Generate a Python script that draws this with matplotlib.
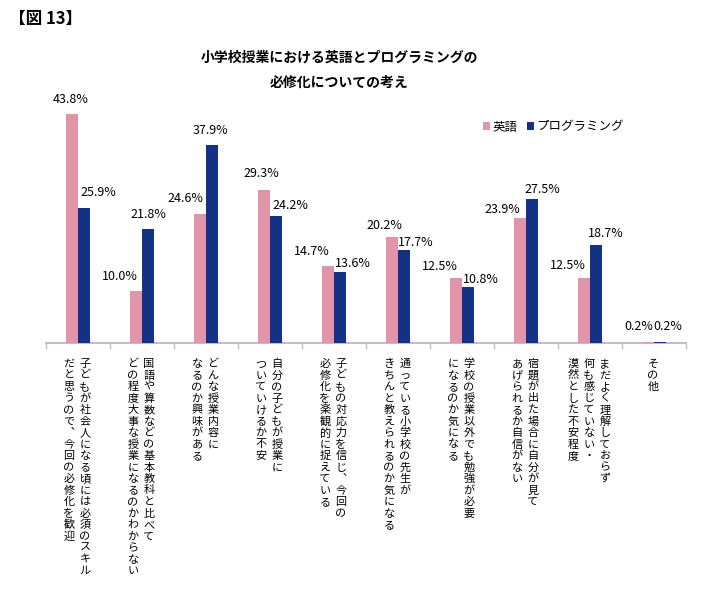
import matplotlib
matplotlib.use('Agg')
import numpy as np
import matplotlib.pyplot as plt

plt.rcParams['font.family'] = ['Noto Sans CJK JP', 'DejaVu Sans']

# data
categories = [
    ['子どもが社会人になる頃には必須のスキル', 'だと思うので︑今回の必修化を歓迎'],
    ['国語や算数などの基本教科と比べて', 'どの程度大事な授業になるのかわからない'],
    ['どんな授業内容に', 'なるのか興味がある'],
    ['自分の子どもが授業に', 'ついていけるか不安'],
    ['子どもの対応力を信じ︑今回の', '必修化を楽観的に捉えている'],
    ['通っている小学校の先生が', 'きちんと教えられるのか気になる'],
    ['学校の授業以外でも勉強が必要', 'になるのか気になる'],
    ['宿題が出た場合に自分が見て', 'あげられるか自信がない'],
    ['まだよく理解しておらず', '何も感じていない・', '漠然とした不安程度'],
    ['その他'],
]
english = [43.8, 10.0, 24.6, 29.3, 14.7, 20.2, 12.5, 23.9, 12.5, 0.2]
programming = [25.9, 21.8, 37.9, 24.2, 13.6, 17.7, 10.8, 27.5, 18.7, 0.2]

# label offsets (pixels) so the value labels don't collide
eng_off = [(-1, 14), (-16, 14), (-14, 16), (-2, 16), (-16, 15),
           (-7, 12), (-16, 11), (-17, 9), (-16, 12), (-9, 15)]
prog_off = [(14, 15), (0, 14), (-2, 14), (14, 11), (12, 8),
            (11, 8), (12, 7), (10, 10), (9, 12), (7, 15)]

W, H = 706, 610
fig = plt.figure(figsize=(W / 100, H / 100), dpi=100)
ax = fig.add_axes([46 / W, (H - 343) / H, 640 / W, 261.5 / H])

pink = '#E195A9'
navy = '#133187'
x = np.arange(len(english))
bw = 0.19
ax.bar(x - 0.1, english, bw, color=pink, label='英語', zorder=3)
ax.bar(x + 0.1, programming, bw, color=navy, label='プログラミング', zorder=3)

ax.set_xlim(-0.5, len(x) - 0.5)
ax.set_ylim(0, 50)
for s in ['top', 'left', 'right']:
    ax.spines[s].set_visible(False)
ax.spines['bottom'].set_color('#BFBFBF')
ax.spines['bottom'].set_linewidth(1.5)
ax.set_yticks([])
ax.set_xticks(np.arange(-0.5, len(x)))
ax.set_xticklabels([])
ax.tick_params(axis='x', length=4, width=1, color='#BFBFBF')

# value labels
for i in range(len(x)):
    ax.annotate('%.1f%%' % english[i], xy=(x[i] - 0.1, english[i]),
                xytext=eng_off[i], textcoords='offset pixels',
                ha='center', va='center', fontsize=9, annotation_clip=False)
    ax.annotate('%.1f%%' % programming[i], xy=(x[i] + 0.1, programming[i]),
                xytext=prog_off[i], textcoords='offset pixels',
                ha='center', va='center', fontsize=9, annotation_clip=False)

# vertical category labels, first column on the right
colgap = 16
pitch = 11.5
for i, cols in enumerate(categories):
    n = len(cols)
    for j, col in enumerate(cols):
        dx = (n - 1) / 2 * colgap - j * colgap - 1
        for k, ch in enumerate(col):
            ax.annotate(ch, xy=(x[i], H - 364 - k * pitch),
                        xycoords=('data', 'figure pixels'),
                        xytext=(dx, 0), textcoords='offset pixels',
                        ha='center', va='center', fontsize=8,
                        annotation_clip=False)

# titles
fig.text(9 / W, 1 - 19 / H, '【図 13】', fontsize=12, fontweight='bold',
         ha='left', va='center')
fig.text(339 / W, 1 - 58 / H, '小学校授業における英語とプログラミングの',
         fontsize=10, fontweight='bold', ha='center', va='center')
fig.text(339 / W, 1 - 83 / H, '必修化についての考え',
         fontsize=10, fontweight='bold', ha='center', va='center')

ax.legend(loc='center left', bbox_to_anchor=(483 / W, 1 - 127 / H),
          bbox_transform=fig.transFigure, ncol=2, frameon=False,
          handlelength=0.55, handleheight=0.55, handletextpad=0.2,
          columnspacing=0.8, fontsize=9, borderaxespad=0, borderpad=0)

fig.savefig('out.png', dpi=100)
